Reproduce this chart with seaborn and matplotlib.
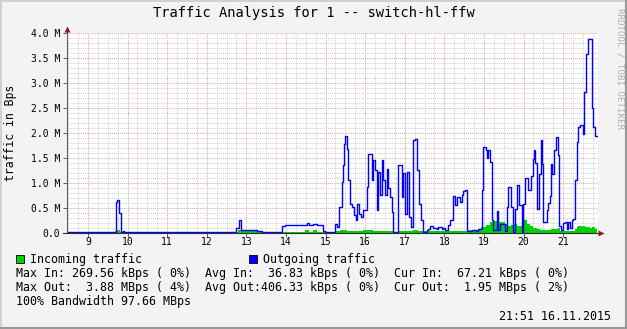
import matplotlib
matplotlib.use("Agg")
import numpy as np
import matplotlib.pyplot as plt
import seaborn as sns
from matplotlib.patches import Rectangle
from matplotlib.lines import Line2D

plt.rcParams['font.family'] = ['DejaVu Sans Mono']

# ---------------- data (hours of day, MBps) ----------------
out_t = [8.470, 9.707, 9.740, 9.790, 9.841, 9.876, 9.909, 11.955, 12.043,
         12.636, 12.737, 12.801, 12.876, 13.268, 13.394, 13.596, 13.646,
         13.747, 13.798, 13.899, 13.975, 14.025, 14.354, 14.530, 14.581,
         14.682, 14.783, 14.934, 14.997, 15.237, 15.295, 15.346, 15.407,
         15.432, 15.465, 15.490, 15.548, 15.573, 15.616, 15.667, 15.717,
         15.768, 15.801, 15.851, 15.886, 15.952, 16.053, 16.078, 16.164,
         16.205, 16.247, 16.290, 16.316, 16.374, 16.417, 16.457, 16.500,
         16.543, 16.583, 16.626, 16.669, 16.710, 16.836, 16.922, 16.962,
         17.005, 17.048, 17.106, 17.157, 17.215, 17.258, 17.316, 17.366,
         17.402, 17.452, 17.553, 17.593, 17.636, 17.720, 17.806, 17.846,
         17.932, 17.972, 18.015, 18.098, 18.141, 18.225, 18.268, 18.311,
         18.394, 18.437, 18.477, 18.520, 18.571, 18.697, 18.798, 18.856,
         18.942, 18.982, 19.043, 19.068, 19.109, 19.152, 19.194, 19.235,
         19.321, 19.361, 19.404, 19.530, 19.573, 19.614, 19.674, 19.725,
         19.783, 19.826, 19.876, 19.952, 19.992, 20.035, 20.104, 20.179,
         20.230, 20.263, 20.288, 20.331, 20.396, 20.432, 20.457, 20.482,
         20.583, 20.624, 20.667, 20.684, 20.725, 20.768, 20.811, 20.861,
         20.894, 20.944, 20.995, 21.045, 21.088, 21.129, 21.172, 21.215,
         21.255, 21.298, 21.341, 21.381, 21.424, 21.508, 21.533, 21.568,
         21.619, 21.720, 21.760, 21.803, 21.846]
out_v = [0.015, 0.63, 0.67, 0.41, 0.02, 0.04, 0.015, 0.03, 0.015,
         0.03, 0.10, 0.26, 0.07, 0.04, 0.02, 0.03, 0.02,
         0.03, 0.02, 0.14, 0.17, 0.16, 0.17, 0.20, 0.17,
         0.18, 0.16, 0.04, 0.02, 0.19, 0.13, 0.53, 1.03,
         1.36, 1.79, 1.94, 1.69, 1.06, 0.59, 0.53, 0.36,
         0.26, 0.59, 0.39, 0.33, 0.46, 0.93, 1.59, 1.06,
         1.46, 1.26, 0.46, 1.23, 0.76, 1.46, 1.06, 0.76,
         1.29, 0.90, 0.73, 0.43, 0.03, 1.36, 0.73, 1.20,
         0.39, 1.23, 0.33, 0.13, 1.86, 1.89, 1.26, 0.59,
         0.26, 0.03, 0.06, 0.09, 0.14, 0.10, 0.08, 0.12,
         0.08, 0.11, 0.07, 0.16, 0.27, 0.74, 0.56, 0.73,
         0.63, 0.76, 0.84, 0.86, 0.05, 0.07, 0.05, 0.09,
         0.87, 1.72, 1.66, 1.50, 1.66, 1.43, 0.26, 0.06,
         0.44, 0.06, 0.19, 0.04, 0.53, 0.93, 0.53, 0.03,
         0.49, 0.96, 0.56, 0.03, 0.59, 1.10, 0.86, 1.15,
         1.49, 1.66, 1.40, 0.49, 1.19, 1.86, 1.39, 0.23,
         0.46, 0.60, 0.74, 1.39, 1.19, 1.66, 1.93, 1.56,
         0.15, 0.07, 0.20, 0.22, 0.09, 0.22, 0.10, 0.26,
         0.29, 1.06, 1.83, 2.13, 2.17, 1.99, 2.83, 3.59,
         3.88, 2.49, 2.13, 1.95, 1.95]

in_t = [8.470, 9.682, 9.732, 9.808, 9.884, 12.636, 12.788, 12.889, 13.293,
        13.596, 13.899, 14.480, 14.581, 14.682, 14.783, 14.985, 15.237,
        15.364, 15.540, 15.616, 15.944, 16.197, 16.702, 16.828, 17.207,
        17.333, 18.141, 18.596, 18.924, 19.051, 19.152, 19.227, 19.354,
        19.530, 19.606, 19.682, 19.758, 19.833, 19.960, 20.086, 20.162,
        20.237, 20.338, 20.414, 20.692, 20.864, 20.914, 20.990, 21.298,
        21.348, 21.381, 21.475, 21.508, 21.551, 21.677, 21.727, 21.803,
        21.846]
in_v = [0.01, 0.03, 0.06, 0.02, 0.01, 0.02, 0.06, 0.03, 0.02,
        0.01, 0.02, 0.05, 0.02, 0.05, 0.02, 0.01, 0.03,
        0.06, 0.04, 0.03, 0.05, 0.04, 0.02, 0.04, 0.06,
        0.03, 0.04, 0.06, 0.12, 0.16, 0.21, 0.24, 0.22,
        0.17, 0.14, 0.16, 0.17, 0.13, 0.26, 0.18, 0.13,
        0.09, 0.07, 0.06, 0.07, 0.09, 0.04, 0.03, 0.07,
        0.11, 0.14, 0.11, 0.14, 0.11, 0.09, 0.11, 0.07,
        0.07]

hour_ticks = list(range(9, 22))
y_ticks = [0.0, 0.5, 1.0, 1.5, 2.0, 2.5, 3.0, 3.5, 4.0]
y_labels = ["0.0", "0.5 M", "1.0 M", "1.5 M", "2.0 M", "2.5 M", "3.0 M", "3.5 M", "4.0 M"]

title = "Traffic Analysis for 1 -- switch-hl-ffw"
legend_lines = [
    "Max In: 269.56 kBps ( 0%)  Avg In:  36.83 kBps ( 0%)  Cur In:  67.21 kBps ( 0%)",
    "Max Out:  3.88 MBps ( 4%)  Avg Out:406.33 kBps ( 0%)  Cur Out:  1.95 MBps ( 2%)",
    "100% Bandwidth 97.66 MBps",
]
stamp = "21:51 16.11.2015"

assert len(out_t) == len(out_v) and len(in_t) == len(in_v)

# ---------------- figure ----------------
W, H = 627, 329
def fx(px): return px / W
def fy(py): return 1 - py / H

fig = plt.figure(figsize=(W / 100, H / 100), dpi=100, facecolor='#F3F3F3')
ax = fig.add_axes([fx(67), fy(233), 531 / W, 200 / H])
ax.set_facecolor('#FFFFFF')
ax.set_xlim(8.470, 21.879)
ax.set_ylim(0, 4.0)

# grid
minor_x = [h + q for h in range(8, 22) for q in (0.25, 0.5, 0.75) if 8.47 < h + q < 21.879]
minor_y = [v / 10 for v in range(1, 40) if v % 5 != 0]
ax.set_xticks(hour_ticks)
ax.set_xticklabels([str(h) for h in hour_ticks])
ax.set_xticks(minor_x, minor=True)
ax.set_yticks(y_ticks)
ax.set_yticklabels(y_labels)
ax.set_yticks(minor_y, minor=True)
ax.set_axisbelow(True)
ax.grid(which='minor', color='#CFCFCF', ls=(0, (1, 1)), lw=0.7)
ax.grid(which='major', color='#E8A0A0', ls=(0, (1, 1)), lw=0.7)
ax.tick_params(which='minor', length=0)
ax.tick_params(which='major', length=2.9, width=0.7, color='#606060',
               labelsize=7, direction='out')
ax.tick_params(axis='x', pad=0.3)
ax.tick_params(axis='y', pad=2.2)
for s in ax.spines.values():
    s.set_visible(False)

# data
ax.fill_between(in_t, in_v, step='post', color='#00CF00', lw=0, zorder=2)
sns.lineplot(x=out_t, y=out_v, drawstyle='steps-post', color='#0000FF', lw=1.0,
             ax=ax, estimator=None, sort=False, zorder=3)

# axes lines and arrows
ax.plot([0, 0], [0, 1.015], transform=ax.transAxes, color='#606060', lw=0.8,
        clip_on=False, zorder=4)
ax.plot([-0.008, 1.004], [0, 0], transform=ax.transAxes, color='#303030', lw=0.8,
        clip_on=False, zorder=4)
ax.plot([0], [1.022], transform=ax.transAxes, marker='^', ms=4.5, color='#8B1A1A',
        clip_on=False, zorder=5, mec='none')
ax.plot([1.006], [0], transform=ax.transAxes, marker='>', ms=4.5, color='#8B1A1A',
        clip_on=False, zorder=5, mec='none')
ax.set_xlabel("")
ax.set_ylabel("")

# texts
fig.text(0.5, fy(13), title, ha='center', va='center', fontsize=9.9)
fig.text(fx(11), fy(133), "traffic in Bps", rotation=90, ha='center', va='center',
         fontsize=8.3)
fig.text(fx(620), fy(8), "RRDTOOL / TOBI OETIKER", rotation=-90, ha='center', va='top',
         fontsize=6.6, color='#B0B0B0')

fs = 8.4
fig.patches.append(Rectangle((fx(16), fy(263)), 8 / W, 8 / H, transform=fig.transFigure,
                             facecolor='#00CF00', edgecolor='black', lw=0.6))
fig.text(fx(30), fy(259), "Incoming traffic", ha='left', va='center', fontsize=fs)
fig.patches.append(Rectangle((fx(249), fy(263)), 8 / W, 8 / H, transform=fig.transFigure,
                             facecolor='#0000FF', edgecolor='black', lw=0.6))
fig.text(fx(263), fy(259), "Outgoing traffic", ha='left', va='center', fontsize=fs)
for line, py in zip(legend_lines, [274, 288, 302]):
    fig.text(fx(16), fy(py), line, ha='left', va='center', fontsize=fs)
fig.text(fx(611), fy(317), stamp, ha='right', va='center', fontsize=fs)

# 3D-ish frame
fig.add_artist(Line2D([0, 1], [fy(0.5), fy(0.5)], transform=fig.transFigure, color='#CBCBCB', lw=1.2))
fig.add_artist(Line2D([fx(0.5), fx(0.5)], [0, 1], transform=fig.transFigure, color='#CBCBCB', lw=1.2))
fig.add_artist(Line2D([0, 1], [fy(328), fy(328)], transform=fig.transFigure, color='#999999', lw=1.5))
fig.add_artist(Line2D([fx(626), fx(626)], [0, 1], transform=fig.transFigure, color='#999999', lw=1.5))

fig.savefig("out.png", dpi=100, facecolor=fig.get_facecolor())
